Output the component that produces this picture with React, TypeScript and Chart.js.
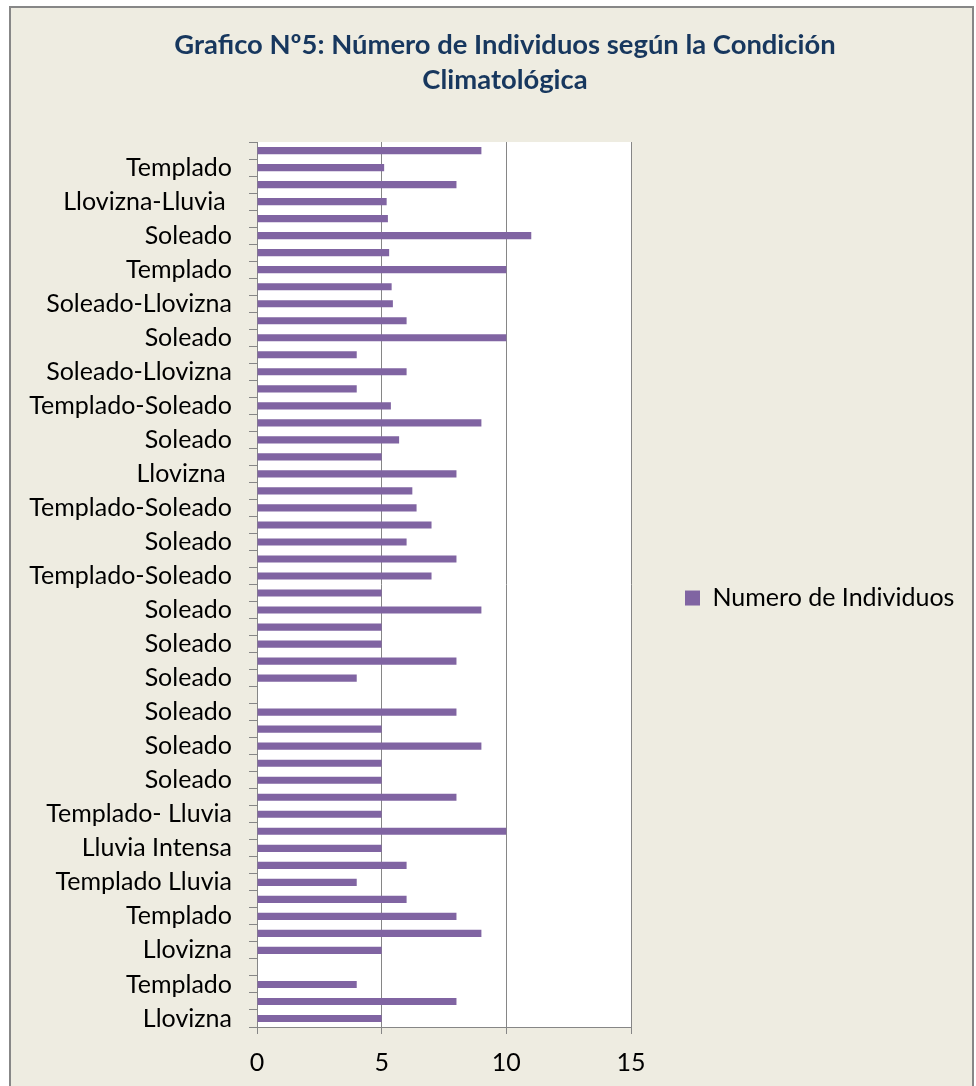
import React, { useEffect, useRef } from 'react';
import { Chart, registerables } from 'chart.js';

Chart.register(...registerables);

// Categories listed top to bottom (only every other label is shown in the source)
const categories: string[] = [
  '', 'Templado', '', 'Llovizna-Lluvia ', '', 'Soleado', '', 'Templado', '', 'Soleado-Llovizna',
  '', 'Soleado', '', 'Soleado-Llovizna', '', 'Templado-Soleado', '', 'Soleado', '', 'Llovizna ',
  '', 'Templado-Soleado', '', 'Soleado', '', 'Templado-Soleado', '', 'Soleado', '', 'Soleado',
  '', 'Soleado', '', 'Soleado', '', 'Soleado', '', 'Soleado', '', 'Templado- Lluvia',
  '', 'Lluvia Intensa', '', 'Templado Lluvia', '', 'Templado', '', 'Llovizna', '', 'Templado',
  '', 'Llovizna',
];

const individuos: number[] = [
  9, 5.1, 8, 5.2, 5.25, 11, 5.3, 10, 5.4, 5.45,
  6, 10, 4, 6, 4, 5.37, 9, 5.7, 5, 8,
  6.23, 6.4, 7, 6, 8, 7, 5, 9, 5, 5,
  8, 4, 0, 8, 5, 9, 5, 5, 8, 5,
  10, 5, 6, 4, 6, 8, 9, 5, 0, 4,
  8, 5,
];

const seriesName = 'Numero de Individuos';
const titleLines = ['Grafico Nº5: Número de Individuos según la Condición', 'Climatológica'];
const xMin = 0;
const xMax = 15;
const xStep = 5;

const FONT = 'Lato';
const GRAY = '#868686';

export default function App() {
  const canvasRef = useRef<HTMLCanvasElement | null>(null);

  useEffect(() => {
    const canvas = canvasRef.current;
    if (!canvas) return;

    const tweaks = {
      id: 'tweaks',
      beforeLayout(chart: any) {
        const lg = chart.legend;
        if (lg && !lg.__patched) {
          const orig = lg.fit;
          lg.fit = function () {
            orig.call(this);
            this.width = 369;
          };
          lg.__patched = true;
        }
      },
      beforeDraw(chart: any) {
        const { ctx, chartArea } = chart;
        ctx.save();
        ctx.fillStyle = '#ffffff';
        ctx.fillRect(chartArea.left, chartArea.top, chartArea.right - chartArea.left, chartArea.bottom - chartArea.top);
        ctx.restore();
      },
    };

    const chart = new Chart(canvas, {
      type: 'bar',
      data: {
        labels: categories,
        datasets: [
          {
            label: seriesName,
            data: individuos,
            backgroundColor: '#8064A2',
            borderWidth: 0,
            barPercentage: 0.42,
            categoryPercentage: 1,
          },
        ],
      },
      options: {
        indexAxis: 'y',
        responsive: false,
        animation: false,
        layout: { padding: 0 },
        scales: {
          x: {
            type: 'linear',
            min: xMin,
            max: xMax,
            afterFit: (s: any) => {
              s.height = 59;
            },
            ticks: {
              stepSize: xStep,
              padding: 14,
              color: '#000',
              font: { family: FONT, size: 25 },
            },
            grid: {
              color: GRAY,
              lineWidth: 1,
              tickLength: 7,
              drawTicks: true,
            },
            border: { display: true, color: GRAY, width: 1 },
          },
          y: {
            type: 'category',
            afterFit: (s: any) => {
              s.width = 247;
            },
            ticks: {
              autoSkip: false,
              padding: 17,
              color: '#000',
              font: { family: FONT, size: 25 },
            },
            grid: {
              display: true,
              drawOnChartArea: false,
              drawTicks: true,
              tickLength: 8,
              color: GRAY,
              offset: true,
            },
            border: { display: true, color: GRAY, width: 1 },
          },
        },
        plugins: {
          title: {
            display: true,
            text: titleLines,
            color: '#17375E',
            font: { family: FONT, size: 27.4, weight: 'bold', lineHeight: 1.28 },
            padding: { top: 19.5, bottom: 44.4 },
          },
          legend: {
            display: true,
            position: 'right',
            fullSize: false,
            title: {
              display: true,
              text: ' ',
              font: { family: FONT, size: 20, lineHeight: 1.35 },
              padding: 0,
            },
            labels: {
              boxWidth: 15,
              boxHeight: 15,
              padding: 54,
              color: '#000',
              font: { family: FONT, size: 25 },
            },
          },
          tooltip: { enabled: false },
        },
      },
      plugins: [tweaks],
    } as any);

    return () => {
      chart.destroy();
    };
  }, []);

  return (
    <div
      style={{
        position: 'fixed',
        left: 0,
        top: 0,
        width: 976,
        height: 1086,
        overflow: 'hidden',
        background: '#ffffff',
      }}
    >
      <div
        style={{
          position: 'absolute',
          left: 9,
          top: 6,
          width: 961,
          height: 1100,
          background: '#EEECE1',
          border: '2px solid #878787',
        }}
      />
      <canvas
        ref={canvasRef}
        width={990}
        height={1078}
        style={{ position: 'absolute', left: 10, top: 8, width: 990, height: 1078 }}
      />
    </div>
  );
}
